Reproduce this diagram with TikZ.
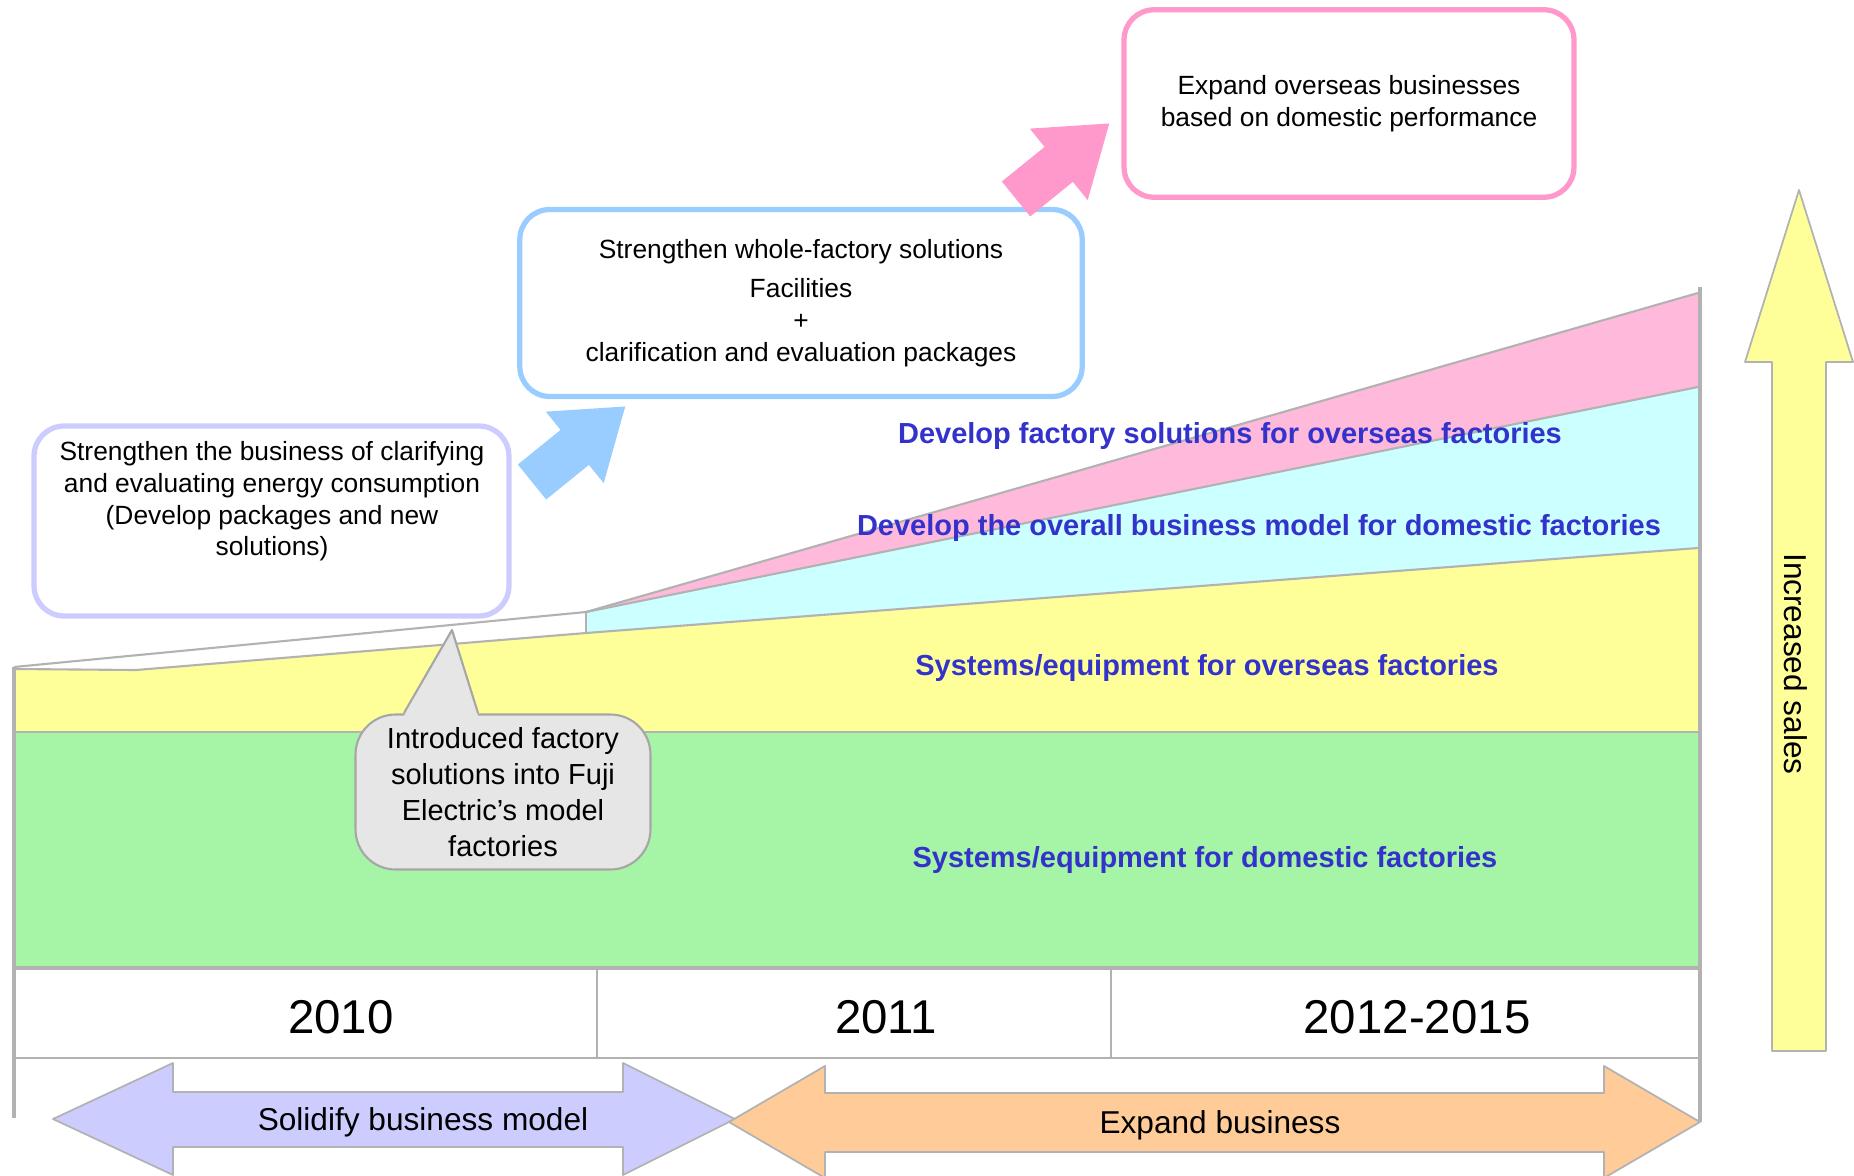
\documentclass[tikz,border=0pt]{standalone}
\usepackage{fontspec}
\setmainfont{Liberation Sans}
\usetikzlibrary{positioning,arrows}

\definecolor{lineGray}{HTML}{B2B2B2}
\definecolor{edgeGray}{HTML}{A6A6A6}
\definecolor{txtBlue}{HTML}{3333CC}
\definecolor{fillGreen}{HTML}{A6F4A6}
\definecolor{fillYellow}{HTML}{FFFF99}
\definecolor{fillCyan}{HTML}{CCFFFF}
\definecolor{fillPink}{HTML}{FFBADB}
\definecolor{boxLilac}{HTML}{CCCCFF}
\definecolor{boxBlue}{HTML}{99CCFF}
\definecolor{boxPink}{HTML}{FF99CC}
\definecolor{arrOrange}{HTML}{FFCC99}
\definecolor{callGray}{HTML}{E6E6E6}

\begin{document}
\begin{tikzpicture}[x=0.02cm,y=-0.02cm,
    goal/.style={rectangle,draw=#1,line width=3pt,rounded corners=0.6cm,fill=white},
    goaltext/.style={align=center,font=\fontsize{15}{18}\selectfont},
    layer/.style={font=\fontsize{16.5}{20}\selectfont\bfseries,text=txtBlue},
    year/.style={font=\fontsize{27}{32}\selectfont},
    phasetext/.style={font=\fontsize{18}{22}\selectfont},
    callout/.style={rectangle,draw=edgeGray,fill=callGray,line width=1.2pt,
        rounded corners=0.8cm,align=center,font=\fontsize{16.5}{20.5}\selectfont},
    blockarrow/.pic={\fill[pic actions] (0,-22.5) -- (55,-22.5) -- (55,-46) -- (120,0)
        -- (55,46) -- (55,22.5) -- (0,22.5) -- cycle;}]
\useasboundingbox (0,0) rectangle (1854,1176);

%% Draw stacked sales areas
\fill[fillGreen]  (14,732) rectangle (1699,967);
\fill[fillYellow] (14,669) -- (136,670) -- (586,633) -- (1698,548) -- (1698,732) -- (14,732) -- cycle;
\fill[fillCyan]   (586,612) -- (1698,387) -- (1698,548) -- (586,633) -- cycle;
\fill[fillPink]   (586,612) -- (1698,293) -- (1698,387) -- cycle;
\begin{scope}[draw=lineGray,line width=1.2pt,line join=round]
   \draw (14,667) -- (586,612) -- (1698,293);
   \draw (586,612) -- (1698,387);
   \draw (14,669) -- (136,670) -- (586,633) -- (1698,548);
   \draw (586,612) -- (586,633);
   \draw (14,732) -- (1699,732);
   \draw (14,1058) -- (1700,1058);
   \draw (597,968) -- (597,1058);
   \draw (1111,968) -- (1111,1058);
\end{scope}
\draw[lineGray,line width=2.2pt] (14,667) -- (14,1118);
\draw[lineGray,line width=2.6pt] (1700,287) -- (1700,1122);
\draw[lineGray,line width=2.4pt] (14,968) -- (1700,968);

\node [layer]  (fsover)  at (1230,436.5)  {Develop factory solutions for overseas factories};
\node [layer]  (bmdom)   at (1259,528.5)  {Develop the overall business model for domestic factories};
\node [layer]  (sysover) at (1207,668.5)  {Systems/equipment for overseas factories};
\node [layer]  (sysdom)  at (1205,859.5)  {Systems/equipment for domestic factories};

%% Callout into the chart
\node [callout,minimum width=5.9cm,minimum height=3.1cm] (intro) at (503,792)
      {Introduced factory\\solutions into Fuji\\Electric’s model\\factories};
\fill[callGray] (404,716) -- (452,630) -- (478,716) -- cycle;
\draw[edgeGray,line width=1.2pt,line join=round] (404,713) -- (452,630) -- (478,713);

%% Goal boxes and step arrows
\node [goal=boxLilac,minimum width=9.5cm,minimum height=3.8cm]  (clarify)  at (271.5,521) {};
\node [goaltext]  (clarifytxt)  at (272,501.5)
      {Strengthen the business of clarifying\\and evaluating energy consumption\\(Develop packages and new\\solutions)};
\node [goal=boxBlue,minimum width=11.25cm,minimum height=3.74cm,goaltext]  (whole)  at (801,303)
      {Strengthen whole-factory solutions\\[4.5pt]Facilities\\+\\clarification and evaluation packages};
\node [goal=boxPink,minimum width=9.0cm,minimum height=3.75cm,goaltext]  (overseas)  at (1349,103.5)
      {Expand overseas businesses\\based on domestic performance};
\pic [rotate=39,fill=boxBlue] (stepa) at (532,482)  {blockarrow};
\pic [rotate=39,fill=boxPink] (stepb) at (1016,199) {blockarrow};

%% Years and phases
\node [year]  (y2010)  at (341,1017)   {2010};
\node [year]  (y2011)  at (886,1017)   {2011};
\node [year]  (y2012)  at (1417,1017)  {2012-2015};

\filldraw[fill=boxLilac,draw=lineGray,line width=1pt,line join=round]
   (53,1119) -- (173,1063) -- (173,1092) -- (623,1092) -- (623,1063) -- (735,1119)
   -- (623,1175) -- (623,1147) -- (173,1147) -- (173,1175) -- cycle;
\filldraw[fill=arrOrange,draw=lineGray,line width=1pt,line join=round]
   (729,1122) -- (825,1066) -- (825,1093) -- (1604,1093) -- (1604,1066) -- (1700,1122)
   -- (1604,1178) -- (1604,1152) -- (825,1152) -- (825,1178) -- cycle;
\node [phasetext]  (solidify)  at (423,1122.5)   {Solidify business model};
\node [phasetext]  (expand)    at (1220,1125.5)  {Expand business};

%% Sales arrow
\filldraw[fill=fillYellow,draw=lineGray,line width=1pt,line join=round]
   (1799,190) -- (1853,362) -- (1826,362) -- (1826,1051) -- (1772,1051) -- (1772,362)
   -- (1745,362) -- cycle;
\node [phasetext,rotate=-90]  (sales)  at (1796,664)  {Increased sales};
\end{tikzpicture}
\end{document}
